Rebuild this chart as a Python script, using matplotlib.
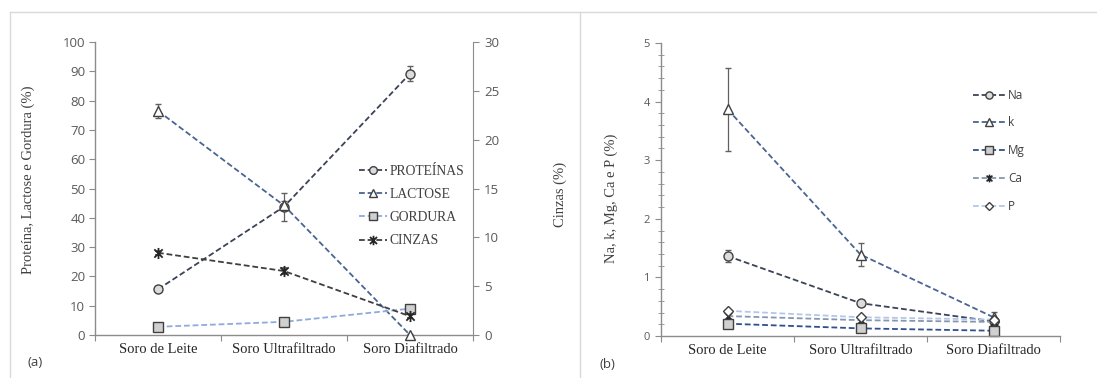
import matplotlib
matplotlib.use("Agg")
import matplotlib.pyplot as plt
from matplotlib.path import Path
from matplotlib.lines import Line2D
import numpy as np

# ---------------- data ----------------
categories = ["Soro de Leite", "Soro Ultrafiltrado", "Soro Diafiltrado"]

# panel (a) - left axis (%)
proteinas = [15.6, 43.8, 89.2]
proteinas_err = [0.8, 4.8, 2.6]
lactose = [76.5, 44.2, 0.0]
lactose_err = [2.3, 1.5, 0.3]
gordura = [2.8, 4.5, 9.0]
gordura_err = [0.3, 0.4, 0.6]
# panel (a) - right axis (%)
cinzas = [8.42, 6.55, 1.92]
cinzas_err = [0.2, 0.35, 0.2]

# panel (b) (%)
na = [1.365, 0.56, 0.25]
na_err = [0.1, 0.03, 0.03]
k = [3.87, 1.39, 0.32]
k_err = [0.71, 0.19, 0.09]
mg = [0.21, 0.13, 0.09]
ca = [0.34, 0.27, 0.24]
p = [0.43, 0.32, 0.28]

# ---------------- style ----------------
serif = ["Liberation Serif", "DejaVu Serif"]
sans = ["Open Sans", "DejaVu Sans"]
tick_col = "#595959"
spine_col = "#8c8c8c"
edge = "#404040"

star_path = Path(
    [(0, -1), (0, 1), (-0.75, -0.75), (0.75, 0.75), (-0.75, 0.75), (0.75, -0.75)],
    [Path.MOVETO, Path.LINETO, Path.MOVETO, Path.LINETO, Path.MOVETO, Path.LINETO],
)

dash = (0, (3.2, 1.6))

fig = plt.figure(figsize=(10.97, 3.78), dpi=100)

# panel frames
W, H = 1097.0, 378.0
def fx(x): return x / W
def fy(y): return 1 - y / H
frame_col = "#d9d9d9"
fig.add_artist(Line2D([fx(10), fx(10)], [fy(12), 0], color=frame_col, lw=1.0))
fig.add_artist(Line2D([fx(10), 1], [fy(12), fy(12)], color=frame_col, lw=1.0))
fig.add_artist(Line2D([fx(580), fx(580)], [fy(12), 0], color=frame_col, lw=1.0))

x = np.arange(len(categories)) + 0.5


def style_axes(ax, right=False):
    ax.spines["top"].set_visible(False)
    if not right:
        ax.spines["right"].set_visible(False)
    for s in ["left", "bottom", "right"]:
        ax.spines[s].set_color(spine_col)
        ax.spines[s].set_linewidth(1.0)
    ax.set_xlim(0, 3)
    ax.set_xticks([0, 1, 2, 3])
    ax.set_xticklabels([])
    ax.set_xticks(x, minor=True)
    ax.set_xticklabels(categories, minor=True, fontsize=10.5, family=serif, color="#262626")
    ax.tick_params(axis="x", which="major", direction="out", length=4, color=spine_col)
    ax.tick_params(axis="x", which="minor", length=0, pad=6)


def unclip(container):
    for art in container.get_children():
        art.set_clip_on(False)


# ---------------- panel (a) ----------------
axa = fig.add_axes([fx(95), fy(335), (473 - 95) / W, (335 - 42) / H])
style_axes(axa)
axa.set_ylim(0, 100)
axa.set_yticks(np.arange(0, 101, 10))
axa.tick_params(axis="y", direction="out", length=4, color=spine_col,
                labelsize=9.5, labelcolor=tick_col, pad=3)
for lab in axa.get_yticklabels():
    lab.set_family(sans)

ebkw = dict(ecolor="#606060", elinewidth=0.9, capsize=2.5, capthick=0.9)
ms = 6.5
h1 = axa.errorbar(x, proteinas, yerr=proteinas_err, color="#3b4356", ls=dash, lw=1.3,
                  marker="o", ms=ms, mfc="#dcdcdc", mec=edge, mew=1.0, label="PROTEÍNAS", zorder=4, **ebkw)
h2 = axa.errorbar(x, lactose, yerr=lactose_err, color="#4a6591", ls=dash, lw=1.3,
                  marker="^", ms=ms, mfc="white", mec=edge, mew=1.0, label="LACTOSE", zorder=4, **ebkw)
h3 = axa.errorbar(x, gordura, yerr=gordura_err, color="#8faadc", ls=dash, lw=1.3,
                  marker="s", ms=ms + 0.5, mfc="#d0d0d0", mec=edge, mew=1.0, label="GORDURA", zorder=4, **ebkw)
for h in (h1, h2, h3):
    unclip(h)

axa2 = axa.twinx()
axa2.spines["top"].set_visible(False)
axa2.spines["left"].set_visible(False)
axa2.spines["bottom"].set_visible(False)
axa2.spines["right"].set_color(spine_col)
axa2.set_ylim(0, 30)
axa2.set_yticks(np.arange(0, 31, 5))
axa2.tick_params(axis="y", direction="out", length=4, color=spine_col,
                 labelsize=9.5, labelcolor=tick_col, pad=4)
for lab in axa2.get_yticklabels():
    lab.set_family(sans)
h4 = axa2.errorbar(x, cinzas, yerr=cinzas_err, color="#3f3f3f", ls=dash, lw=1.3,
                   marker=star_path, ms=8, mec="#262626", mew=1.3, label="CINZAS", **ebkw)

axa.set_ylabel("Proteína, Lactose e Gordura (%)", family=serif, fontsize=10.5, color="#404040")
axa.yaxis.set_label_coords(-0.16, 0.53)
axa2.set_ylabel("Cinzas (%)", family=serif, fontsize=10.5, color="#404040")
axa2.yaxis.set_label_coords(1.212, 0.48)

handles = [h1, h2, h3, h4]
leg = axa.legend(handles=[h[0] for h in handles],
                 labels=["PROTEÍNAS", "LACTOSE", "GORDURA", "CINZAS"],
                 loc="upper left", bbox_to_anchor=(0.685, 0.6), frameon=False,
                 prop={"family": serif, "size": 9.8}, handlelength=2.0,
                 handletextpad=0.25, labelspacing=0.75, borderaxespad=0,
                 markerscale=0.85)
for t in leg.get_texts():
    t.set_color("#404040")

fig.text(fx(28), fy(362), "(a)", family=sans, fontsize=9.5, color="#404040", va="center")

# ---------------- panel (b) ----------------
axb = fig.add_axes([fx(661), fy(336), (1060 - 661) / W, (336 - 43) / H])
style_axes(axb)
axb.set_ylim(0, 5)
axb.set_yticks(np.arange(0, 6, 1))
axb.set_yticks(np.arange(0, 5.01, 0.2), minor=True)
axb.tick_params(axis="y", which="major", direction="out", length=4, color=spine_col,
                labelsize=8, labelcolor=tick_col, pad=4)
axb.tick_params(axis="y", which="minor", direction="inout", length=4, color=spine_col)
for lab in axb.get_yticklabels():
    lab.set_family(sans)

ms_b = 6.5
g1 = axb.errorbar(x, na, yerr=na_err, color="#3b4356", ls=dash, lw=1.3,
                  marker="o", ms=ms_b, mfc="#dcdcdc", mec=edge, mew=1.0, **ebkw)
g2 = axb.errorbar(x, k, yerr=k_err, color="#4a6591", ls=dash, lw=1.3,
                  marker="^", ms=ms_b + 0.5, mfc="white", mec=edge, mew=1.0, **ebkw)
g4 = axb.errorbar(x, ca, color="#8497b0", ls=dash, lw=1.3,
                  marker=star_path, ms=7, mec="#262626", mew=1.2)
g5 = axb.errorbar(x, p, color="#b4c7e7", ls=dash, lw=1.3,
                  marker="D", ms=5, mfc="white", mec=edge, mew=1.0)
g3 = axb.errorbar(x, mg, color="#2f4f8f", ls=dash, lw=1.3,
                  marker="s", ms=ms_b + 0.5, mfc="#d0d0d0", mec=edge, mew=1.0)
for g in (g1, g2, g3, g4, g5):
    unclip(g)

axb.set_ylabel("Na, k, Mg, Ca e P (%)", family=serif, fontsize=10.5, color="#404040")
axb.yaxis.set_label_coords(-0.108, 0.47)

legb = axb.legend(handles=[g[0] for g in [g1, g2, g3, g4, g5]],
                  labels=["Na", "k", "Mg", "Ca", "P"],
                  loc="upper left", bbox_to_anchor=(0.77, 0.86), frameon=False,
                  prop={"family": sans, "size": 8.5}, handlelength=2.8,
                  handletextpad=0.2, labelspacing=1.25, borderaxespad=0,
                  markerscale=0.8)
for t in legb.get_texts():
    t.set_color("#404040")

fig.text(fx(600), fy(365), "(b)", family=sans, fontsize=9.5, color="#404040", va="center")

fig.savefig("out.png", dpi=100, facecolor="white")
